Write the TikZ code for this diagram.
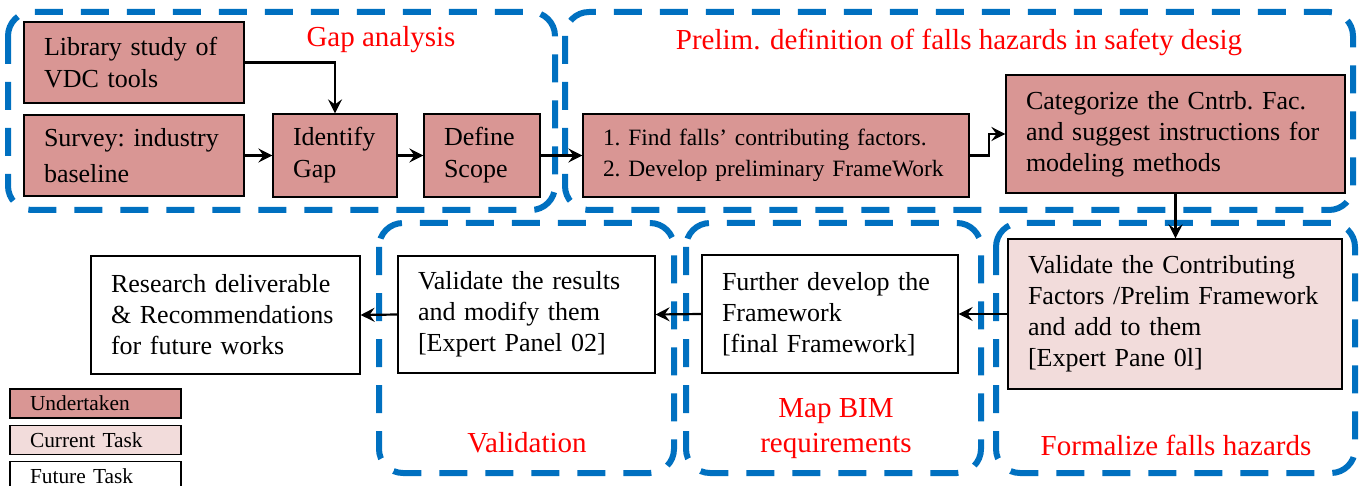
\documentclass[tikz,border=0pt]{standalone}
\usepackage{fontspec}
\setmainfont{Liberation Serif}
\usetikzlibrary{arrows.meta}
\definecolor{grpblue}{HTML}{0070C0}
\definecolor{undert}{HTML}{D99694}
\definecolor{curtask}{HTML}{F2DCDB}
\definecolor{lblred}{HTML}{FF0000}
\begin{document}
\begin{tikzpicture}[x=0.5pt,y=-0.5pt,
 box/.style={draw=black, line width=0.6pt, inner xsep=10pt, inner ysep=2pt, align=left, font=\fontsize{13}{15.5}\selectfont},
 done/.style={box, fill=undert},
 cur/.style={box, fill=curtask},
 fut/.style={box, fill=white},
 grp/.style={draw=grpblue, line width=3pt, dash pattern=on 14pt off 9pt, rounded corners=12pt},
 lbl/.style={text=lblred, font=\fontsize{14.5}{17.5}\selectfont, align=center},
 arr/.style={draw=black, line width=1.1pt, -{Stealth[length=7pt,width=7pt,inset=2.5pt]}},
 leg/.style={box, font=\fontsize{10.7}{12}\selectfont, minimum width=85.5pt, text width=65.5pt, minimum height=14.5pt, inner ysep=0pt},
]
\useasboundingbox (0,0) rectangle (1359,486);

% dashed groups
\draw[grp] (8,12) rectangle (555,210);
\draw[grp] (565,12) rectangle (1353,210);
\draw[grp] (379,223) rectangle (674,473);
\draw[grp] (686,223) rectangle (981,473);
\draw[grp] (996,223) rectangle (1355,473);

% group labels
\node[lbl] (lgap) at (381,40) {Gap analysis};
\node[lbl] (lpre) at (959,42) {Prelim. definition of falls hazards in safety desig};
\node[lbl] (lval) at (527,443) {Validation};
\node[lbl] (lmap) at (836,429) {Map BIM\\requirements};
\node[lbl] (lfor) at (1176,445) {Formalize falls hazards};

% boxes
\node[done, font=\fontsize{13}{16}\selectfont, minimum width=110pt, text width=90pt, minimum height=40.5pt] (lib) at (134,62.5) {Library~study~of\\VDC~tools};
\node[done, font=\fontsize{13}{16}\selectfont, minimum width=110pt, text width=90pt, minimum height=40.5pt] (sur) at (134,155.5) {Survey:~industry\\[2pt]baseline};
\node[done, font=\fontsize{13}{16}\selectfont, minimum width=62pt, text width=42pt, minimum height=41.5pt] (idg) at (335,155.5) {Identify\\Gap};
\node[done, font=\fontsize{13}{16}\selectfont, minimum width=58pt, text width=38pt, minimum height=41.5pt] (dfs) at (482,155.5) {Define\\Scope};
\node[done, font=\fontsize{11.7}{15.5}\selectfont, minimum width=193pt, text width=173pt, minimum height=41.5pt] (fnd) at (776,155.5) {1.~Find~falls’~contributing~factors.\\2.~Develop~preliminary~FrameWork};
\node[done, minimum width=169.5pt, text width=149.5pt, minimum height=59pt] (cat) at (1175.5,134) {Categorize~the~Cntrb.~Fac.\\and~suggest~instructions~for\\modeling~methods};
\node[cur, minimum width=167pt, text width=147pt, minimum height=75pt] (valc) at (1175,314) {Validate~the~Contributing\\Factors~/Prelim~Framework\\and~add~to~them\\{[}Expert~Pane~0l{]}};
\node[fut, minimum width=128pt, text width=108pt, minimum height=59pt] (fur) at (830,314) {Further~develop~the\\Framework\\{[}final~Framework{]}};
\node[fut, minimum width=128.5pt, text width=108.5pt, minimum height=58.5pt] (valr) at (526.5,314.5) {Validate~the~results\\and~modify~them\\{[}Expert~Panel~02{]}};
\node[fut, minimum width=134.5pt, text width=114.5pt, minimum height=59pt] (res) at (225.5,315) {Research~deliverable\\\&~Recommendations\\for~future~works};

% legend
\node[leg, fill=undert] (lg1) at (95.5,403.5) {Undertaken};
\node[leg, fill=curtask] (lg2) at (95.5,440) {Current~Task};
\node[leg, fill=white] (lg3) at (95.5,476) {Future~Task};

% connectors
\draw[arr] (lib.east) -| (idg.north);
\draw[arr] (sur.east) -- (idg.west);
\draw[arr] (idg.east) -- (dfs.west);
\draw[arr] (dfs.east) -- (fnd.west);
\draw[arr] (fnd.east) -- ++(19,0) |- (cat.west);
\draw[arr] (cat.south) -- (cat.south |- valc.north);
\draw[arr] (valc.west) -- (fur.east);
\draw[arr] (fur.west) -- (valr.east);
\draw[arr] (valr.west) -- (res.east);
\end{tikzpicture}
\end{document}
